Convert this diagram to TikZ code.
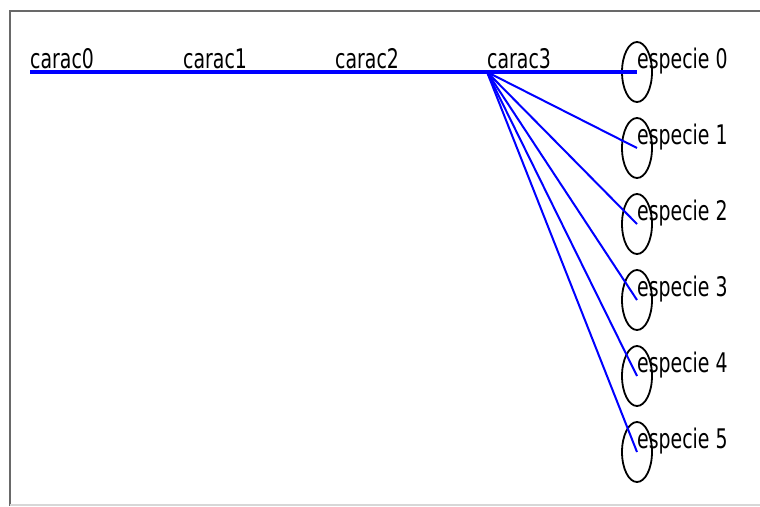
\documentclass[tikz,border=0pt]{standalone}
\usepackage{fontspec}
\usepackage{xcolor}
\newfontfamily\plotfont[FakeStretch=0.7]{DejaVu Sans}
\definecolor{treeblue}{RGB}{0, 0, 255}
\definecolor{framegray}{RGB}{105, 105, 105}
\definecolor{framelight}{RGB}{215, 215, 215}
\usetikzlibrary{shapes.geometric, positioning}
\tikzstyle{caraclabel} = [anchor=base west, inner sep=0pt,
                          font=\plotfont\fontsize{27}{27}\selectfont]
\tikzstyle{ring} = [draw=black, ellipse, line width=1.8pt,
                    minimum width=30pt, minimum height=60pt, inner sep=0pt]
\tikzstyle{trunk} = [draw=treeblue, line width=3.5pt]
\tikzstyle{branch} = [draw=treeblue, line width=2pt]

\begin{document}
\begin{tikzpicture}[x=1pt, y=-1pt]
                    \useasboundingbox (0,0) rectangle (760,506);
                    % frame
                    \draw[framegray, line width=1.5pt] (760,11) -- (10,11) -- (10,506);
                    \draw[framelight, line width=1.5pt] (10,505) -- (760,505);
                    % characters along the trunk
                    \coordinate (c0) at (30, 72);
                    \coordinate (c1) at (183, 72);
                    \coordinate (c2) at (335, 72);
                    \coordinate (c3) at (487, 72);
                    % species
                    \coordinate (e0) at (637, 72);
                    \coordinate (e1) at (637, 148);
                    \coordinate (e2) at (637, 224);
                    \coordinate (e3) at (637, 300);
                    \coordinate (e4) at (637, 376);
                    \coordinate (e5) at (637, 452);
                    \node[ring] (r0) at (e0) {};
                    \node[ring] (r1) at (e1) {};
                    \node[ring] (r2) at (e2) {};
                    \node[ring] (r3) at (e3) {};
                    \node[ring] (r4) at (e4) {};
                    \node[ring] (r5) at (e5) {};
                    \draw[trunk] (c0) -- (c1) -- (c2) -- (c3) -- (e0);
                    \draw[branch] (c3) -- (e1);
                    \draw[branch] (c3) -- (e2);
                    \draw[branch] (c3) -- (e3);
                    \draw[branch] (c3) -- (e4);
                    \draw[branch] (c3) -- (e5);
                    \node[caraclabel] (lc0) at ([yshift=4pt]c0) {carac0};
                    \node[caraclabel] (lc1) at ([yshift=4pt]c1) {carac1};
                    \node[caraclabel] (lc2) at ([yshift=4pt]c2) {carac2};
                    \node[caraclabel] (lc3) at ([yshift=4pt]c3) {carac3};
                    \node[caraclabel] (le0) at ([yshift=4pt]e0) {especie 0};
                    \node[caraclabel] (le1) at ([yshift=4pt]e1) {especie 1};
                    \node[caraclabel] (le2) at ([yshift=4pt]e2) {especie 2};
                    \node[caraclabel] (le3) at ([yshift=4pt]e3) {especie 3};
                    \node[caraclabel] (le4) at ([yshift=4pt]e4) {especie 4};
                    \node[caraclabel] (le5) at ([yshift=4pt]e5) {especie 5};
                \end{tikzpicture}
\end{document}
